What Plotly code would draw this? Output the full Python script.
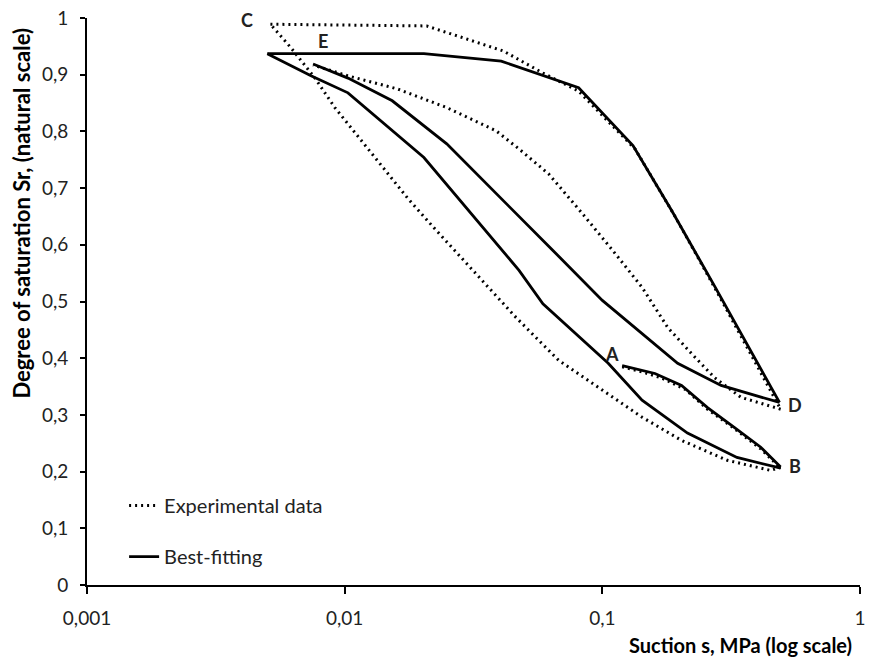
import math
import plotly.graph_objects as go

# Suction s (MPa) and degree of saturation Sr along each path
# Experimental data
exp_AB_s = [0.1194, 0.1426, 0.17, 0.21, 0.256, 0.325, 0.412, 0.492]
exp_AB_sr = [0.385, 0.376, 0.365, 0.345, 0.310, 0.276, 0.240, 0.206]

exp_BC_s = [0.492, 0.451, 0.305, 0.203, 0.1426, 0.1, 0.0678, 0.0462, 0.0297,
            0.0222, 0.0175, 0.0137, 0.0109, 0.00916, 0.00767, 0.0062, 0.00515]
exp_BC_sr = [0.208, 0.202, 0.220, 0.255, 0.296, 0.343, 0.396, 0.472, 0.567,
             0.630, 0.683, 0.743, 0.801, 0.842, 0.894, 0.947, 0.989]

exp_CD_s = [0.00515, 0.0208, 0.0412, 0.0588, 0.0809, 0.134, 0.191, 0.277, 0.492]
exp_CD_sr = [0.989, 0.986, 0.942, 0.903, 0.871, 0.769, 0.651, 0.519, 0.310]

exp_DE_s = [0.492, 0.345, 0.272, 0.222, 0.1795, 0.1426, 0.112, 0.0837, 0.0619,
            0.0475, 0.0387, 0.0249, 0.016, 0.0103, 0.00754]
exp_DE_sr = [0.310, 0.331, 0.366, 0.408, 0.454, 0.525, 0.585, 0.655, 0.725,
             0.769, 0.801, 0.842, 0.875, 0.898, 0.917]

# Best-fitting model
fit_AB_s = [0.1194, 0.1426, 0.160, 0.203, 0.256, 0.325, 0.412, 0.492]
fit_AB_sr = [0.387, 0.379, 0.373, 0.352, 0.313, 0.278, 0.243, 0.208]

fit_BC_s = [0.492, 0.333, 0.214, 0.1426, 0.1054, 0.0787, 0.0588, 0.0475,
            0.0203, 0.0103, 0.0074, 0.00501]
fit_BC_sr = [0.206, 0.225, 0.268, 0.326, 0.391, 0.444, 0.496, 0.555,
             0.754, 0.868, 0.898, 0.937]

fit_CD_s = [0.00501, 0.0203, 0.0405, 0.0809, 0.1315, 0.186, 0.272, 0.487]
fit_CD_sr = [0.937, 0.937, 0.924, 0.877, 0.775, 0.660, 0.528, 0.322]

fit_DE_s = [0.487, 0.289, 0.196, 0.1, 0.0643, 0.0412, 0.0249, 0.0153, 0.0103, 0.00754]
fit_DE_sr = [0.322, 0.352, 0.391, 0.502, 0.590, 0.678, 0.778, 0.854, 0.894, 0.919]

# Path end-point labels
point_names = ["A", "B", "C", "D", "E"]
point_s = [0.109, 0.557, 0.00416, 0.557, 0.00823]
point_sr = [0.407, 0.2095, 0.996, 0.317, 0.960]

# Axis ticks
x_tickvals = [0.001, 0.01, 0.1, 1]
x_ticktext = ["0,001", "0,01", "0,1", "1"]
y_tickvals = [0, 0.1, 0.2, 0.3, 0.4, 0.5, 0.6, 0.7, 0.8, 0.9, 1]
y_ticktext = ["0", "0,1", "0,2", "0,3", "0,4", "0,5", "0,6", "0,7", "0,8", "0,9", "1"]

FONT = "Lato, 'Open Sans', sans-serif"
TEXT = "#222222"

fig = go.Figure()

exp_paths = [(exp_AB_s, exp_AB_sr), (exp_BC_s, exp_BC_sr),
             (exp_CD_s, exp_CD_sr), (exp_DE_s, exp_DE_sr)]
fit_paths = [(fit_AB_s, fit_AB_sr), (fit_BC_s, fit_BC_sr),
             (fit_CD_s, fit_CD_sr), (fit_DE_s, fit_DE_sr)]

for i, (s, sr) in enumerate(exp_paths):
    fig.add_trace(go.Scatter(
        x=s, y=sr, mode="lines", name="Experimental data",
        line=dict(color="black", width=3, dash="2px,4px"),
        showlegend=(i == 0), legend="legend", legendgroup="exp",
        cliponaxis=False,
    ))

for i, (s, sr) in enumerate(fit_paths):
    fig.add_trace(go.Scatter(
        x=s, y=sr, mode="lines", name="Best-fitting",
        line=dict(color="black", width=2.8),
        showlegend=(i == 0), legend="legend2", legendgroup="fit",
        cliponaxis=False,
    ))

# Annotations on a log axis take log10 positions
for name, s, sr in zip(point_names, point_s, point_sr):
    fig.add_annotation(
        x=math.log10(s), y=sr, xref="x", yref="y", text=name, showarrow=False,
        font=dict(family=FONT, size=18, color=TEXT, weight="bold"),
        xanchor="center", yanchor="middle",
    )

fig.add_annotation(
    text="Degree of saturation Sr, (natural scale)",
    xref="paper", yref="paper", x=0, y=0.655, xshift=-65,
    textangle=-90, showarrow=False, xanchor="center", yanchor="middle",
    font=dict(family=FONT, size=22, color="black", weight="bold"),
)
fig.add_annotation(
    text="Suction s, MPa (log scale)",
    xref="paper", yref="paper", x=0.992, y=-0.106,
    showarrow=False, xanchor="right", yanchor="middle",
    font=dict(family=FONT, size=20, color="black", weight="bold"),
)

fig.update_layout(
    width=872, height=663,
    margin=dict(l=87, r=6, t=17, b=78),
    paper_bgcolor="white", plot_bgcolor="white",
    font=dict(family=FONT, size=19, color=TEXT),
    legend=dict(x=0.048, y=0.14, xanchor="left", yanchor="middle",
                bgcolor="rgba(0,0,0,0)", borderwidth=0,
                font=dict(family=FONT, size=20, color=TEXT)),
    legend2=dict(x=0.048, y=0.05, xanchor="left", yanchor="middle",
                 bgcolor="rgba(0,0,0,0)", borderwidth=0,
                 font=dict(family=FONT, size=20, color=TEXT)),
    xaxis=dict(
        type="log", range=[-3, 0],
        tickvals=x_tickvals, ticktext=x_ticktext,
        showgrid=False, zeroline=False,
        showline=True, linecolor="black", linewidth=1.6,
        ticks="outside", ticklen=7, tickwidth=1.6, tickcolor="black",
        ticklabelstandoff=8,
        tickfont=dict(family=FONT, size=19, color=TEXT),
    ),
    yaxis=dict(
        range=[0, 1],
        tickvals=y_tickvals, ticktext=y_ticktext,
        showgrid=False, zeroline=False,
        showline=True, linecolor="black", linewidth=1.6,
        ticks="outside", ticklen=5, tickwidth=1.6, tickcolor="black",
        ticklabelstandoff=8,
        tickfont=dict(family=FONT, size=19, color=TEXT),
    ),
)

fig.write_html("out.html")
